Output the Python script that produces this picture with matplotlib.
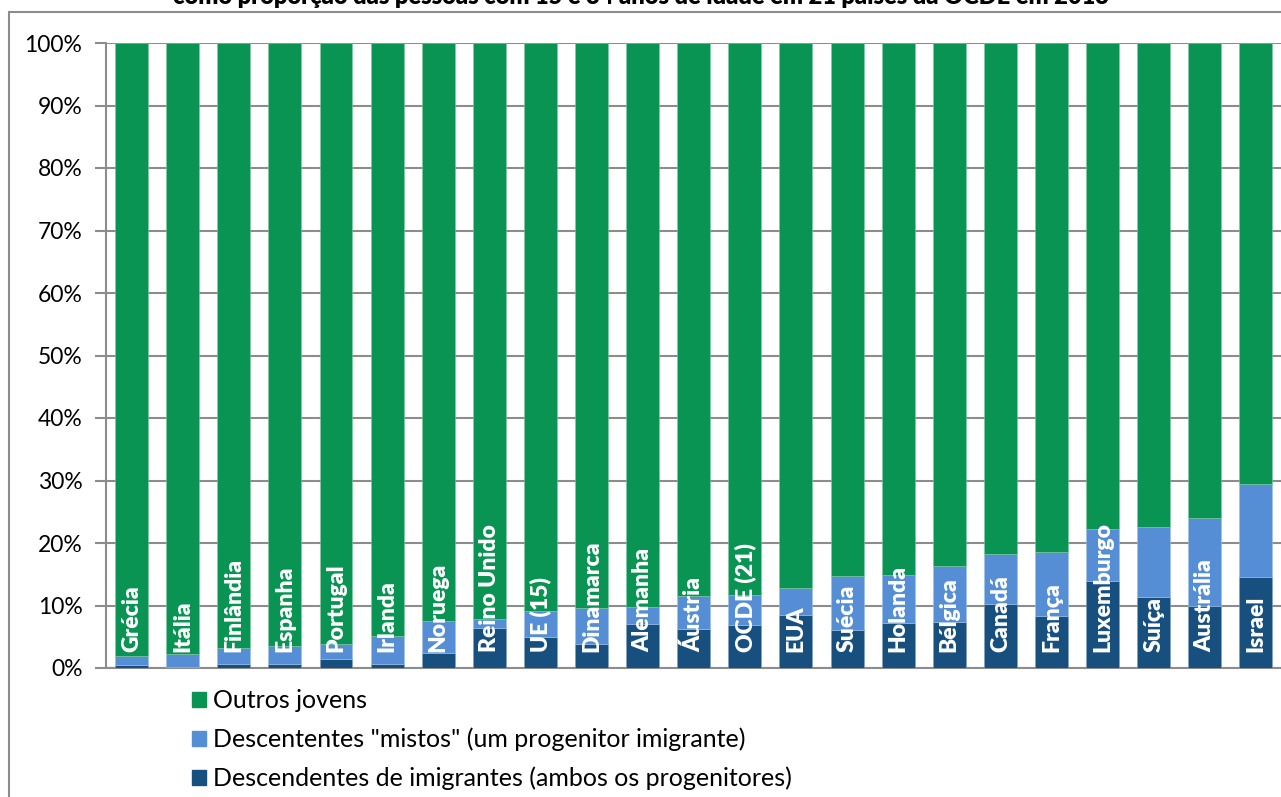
import matplotlib.pyplot as plt
from matplotlib.patches import Patch, Rectangle

# Jovens (15-34 anos) por origem, % do total, 2013
paises = ['Grécia', 'Itália', 'Finlândia', 'Espanha', 'Portugal', 'Irlanda',
          'Noruega', 'Reino Unido', 'UE (15)', 'Dinamarca', 'Alemanha', 'Áustria',
          'OCDE (21)', 'EUA', 'Suécia', 'Holanda', 'Bélgica', 'Canadá', 'França',
          'Luxemburgo', 'Suíça', 'Austrália', 'Israel']
ambos = [0.5, 0.2, 0.7, 0.7, 1.4, 0.7, 2.4, 6.4, 4.9, 3.8, 7.1, 6.3,
         6.9, 8.5, 6.1, 7.2, 7.4, 10.2, 8.4, 13.9, 11.4, 10.0, 14.5]
mistos = [1.5, 2.1, 2.5, 2.8, 2.4, 4.5, 5.2, 1.5, 4.2, 5.8, 2.6, 5.3,
          4.8, 4.3, 8.6, 7.7, 8.9, 8.1, 10.1, 8.3, 11.1, 14.0, 14.9]
outros = [100 - a - m for a, m in zip(ambos, mistos)]

cor_outros = '#0A9453'
cor_mistos = '#558ED5'
cor_ambos = '#17507F'
cinza = '#8C8C8C'

plt.rcParams['font.family'] = ['Lato', 'DejaVu Sans']

fig = plt.figure(figsize=(12.81, 7.97), dpi=100)
ax = fig.add_axes([106 / 1281, 1 - 668 / 797, 1175 / 1281, 625 / 797])

x = range(len(paises))
w = 0.645
base_m = ambos
base_o = [a + m for a, m in zip(ambos, mistos)]
ax.bar(x, ambos, w, color=cor_ambos, edgecolor='#7F9FBF', linewidth=0.4, zorder=3)
ax.bar(x, mistos, w, bottom=base_m, color=cor_mistos, edgecolor='#9FC0E8', linewidth=0.4, zorder=3)
ax.bar(x, outros, w, bottom=base_o, color=cor_outros, edgecolor='#7FC8A0', linewidth=0.4, zorder=3)

for i, nome in enumerate(paises):
    ax.text(i, 2.5, nome, rotation=90, ha='center', va='bottom', color='white',
            fontsize=16.5, fontweight='heavy', zorder=4)

ax.set_xlim(-0.5, 22.49)
ax.set_ylim(0, 100)
ax.set_yticks(range(0, 101, 10))
ax.set_yticklabels([f'{v}%' for v in range(0, 101, 10)], fontsize=16.5)
ax.set_xticks([])
ax.yaxis.grid(True, color=cinza, linewidth=1.5, zorder=0)
ax.tick_params(axis='y', length=8, width=1.5, color=cinza, pad=9)
for s in ['top', 'right']:
    ax.spines[s].set_visible(False)
for s in ['left', 'bottom']:
    ax.spines[s].set_color(cinza)
    ax.spines[s].set_linewidth(1.5)

handles = [Patch(color=cor_outros), Patch(color=cor_mistos), Patch(color=cor_ambos)]
rotulos = ['Outros jovens', 'Descententes "mistos" (um progenitor imigrante)',
           'Descendentes de imigrantes (ambos os progenitores)']
fig.legend(handles, rotulos, loc='upper left', bbox_to_anchor=(182 / 1281, 1 - 679 / 797),
           frameon=False, fontsize=18, handlelength=0.55, handleheight=0.55,
           handletextpad=0.3, labelspacing=0.62, borderaxespad=0)

# moldura do gráfico e título (cortado no topo)
fig.patches.append(Rectangle((9 / 1281, -0.1), 1.2, 1 - 12 / 797 + 0.1, transform=fig.transFigure,
                             fill=False, edgecolor=cinza, linewidth=1.5))
fig.text(0.5, 1 - 4 / 797, 'como proporção das pessoas com 15 e 34 anos de idade em 21 países da OCDE em 2013',
         ha='center', va='baseline', fontsize=17, fontweight='heavy')

fig.savefig('out.png', dpi=100)
